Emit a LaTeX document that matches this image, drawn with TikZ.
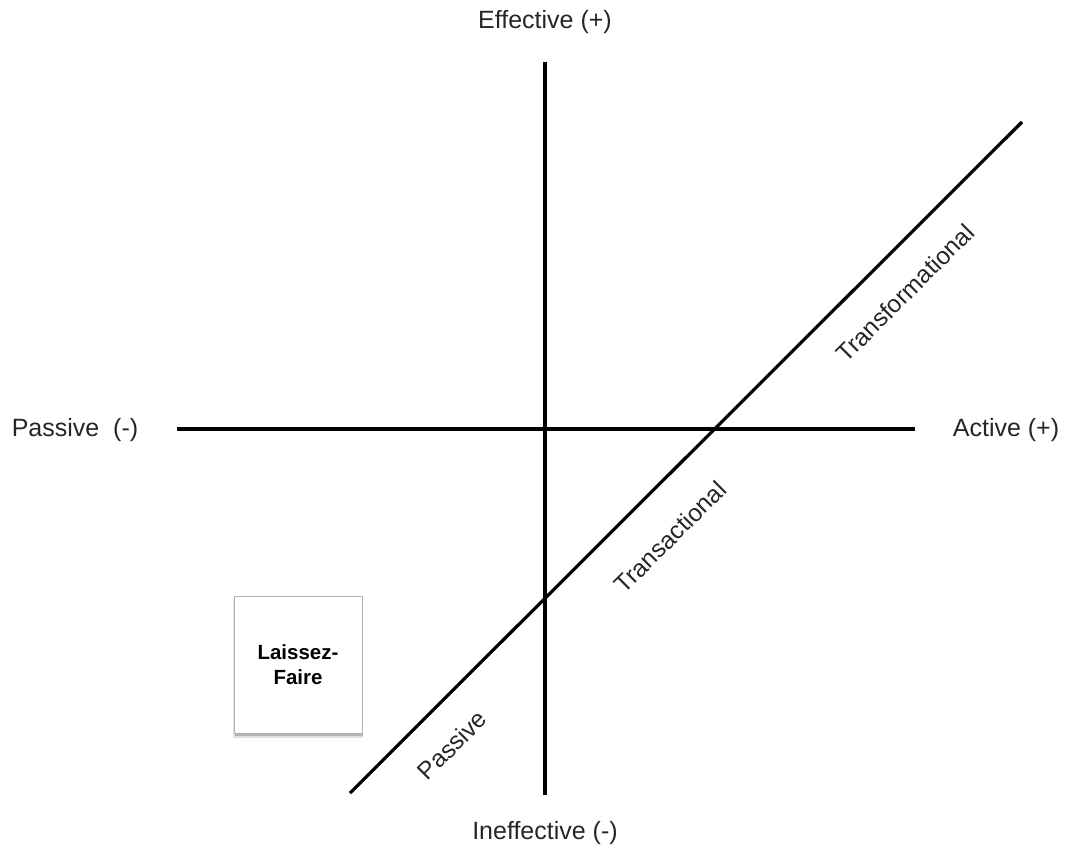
\documentclass[tikz,border=0pt]{standalone}
\usepackage{fontspec}
\setmainfont{Liberation Sans}
\usetikzlibrary{shadows}
\begin{document}
\begin{tikzpicture}[x=1pt,y=-1pt,
  axis/.style={line width=3.2pt,black},
  lbl/.style={font=\fontsize{25}{30}\selectfont, inner sep=0pt, text=black!85},
  dlbl/.style={font=\fontsize{24.5}{28}\selectfont, rotate=45, inner sep=0pt, text=black!85},
  boxstyle/.style={draw=black!30, line width=0.8pt, fill=white, minimum width=128pt, minimum height=137pt,
    align=center, font=\bfseries\fontsize{20.5}{25}\selectfont,
    general shadow={shadow xshift=0pt, shadow yshift=-4pt, shadow scale=1.02, opacity=0.12, fill=black},
    drop shadow={shadow xshift=0.5pt, shadow yshift=-2.5pt, opacity=0.2, fill=black}}]
\useasboundingbox (0,0) rectangle (1065,850);
\coordinate (vt) at (545,62);
\coordinate (vb) at (545,795);
\coordinate (hl) at (177,429);
\coordinate (hr) at (915,429);
\coordinate (dl) at (350,793);
\coordinate (dr) at (1022,122);
\draw[axis] (vt) -- (vb);
\draw[axis] (hl) -- (hr);
\draw[axis] (dl) -- (dr);
\node[lbl] (eff) at (545,22) {Effective (+)};
\node[lbl] (ineff) at (545,833) {Ineffective (-)};
\node[lbl] (pas) at (75,430) {Passive\ \ (-)};
\node[lbl] (act) at (1006,430) {Active (+)};
\node[dlbl] (tf) at (905,293) {Transformational};
\node[dlbl] (ta) at (670,537) {Transactional};
\node[dlbl] (pa) at (452,745) {Passive};
\node[boxstyle] (lf) at (298,664.5) {Laissez-\\Faire};
\end{tikzpicture}
\end{document}
